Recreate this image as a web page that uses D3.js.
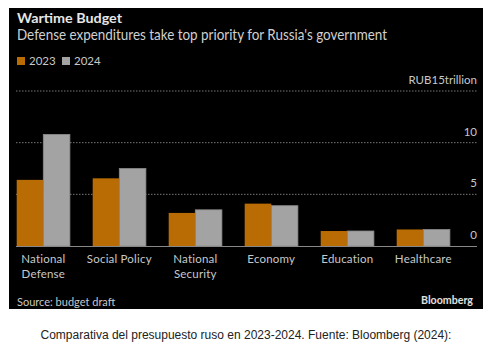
<!DOCTYPE html>
<html>
<head>
<meta charset="utf-8">
<script src="https://cdn.jsdelivr.net/npm/d3@7"></script>
<style>
  body { margin: 0; background: #fff; }
  svg text { font-family: Lato, "Noto Sans", sans-serif; }
</style>
</head>
<body>
<svg id="chart" width="494" height="361"></svg>
<script>
const categories = [
  ["National", "Defense"],
  ["Social Policy"],
  ["National", "Security"],
  ["Economy"],
  ["Education"],
  ["Healthcare"]
];
const years = ["2023", "2024"];
const values2023 = [6.4, 6.55, 3.2, 4.1, 1.45, 1.6];
const values2024 = [10.8, 7.5, 3.5, 3.9, 1.45, 1.6];
const yTicks = [0, 5, 10, 15];

const colors = { "2023": "#b96b04", "2024": "#a3a3a3" };

const svg = d3.select("#chart");

// black card
svg.append("rect")
  .attr("x", 9).attr("y", 8)
  .attr("width", 474).attr("height", 301)
  .attr("fill", "#000");

svg.append("text")
  .attr("x", 17).attr("y", 23)
  .attr("fill", "#e6e6e6")
  .attr("font-size", 14).attr("font-weight", "bold")
  .attr("textLength", 105).attr("lengthAdjust", "spacingAndGlyphs")
  .text("Wartime Budget");

svg.append("text")
  .attr("x", 17).attr("y", 40)
  .attr("fill", "#d0d0d0")
  .attr("font-size", 15)
  .attr("textLength", 370).attr("lengthAdjust", "spacingAndGlyphs")
  .text("Defense expenditures take top priority for Russia's government");

// legend
const legend = svg.append("g");
years.forEach((yr, i) => {
  const gx = 17 + i * 45;
  legend.append("rect")
    .attr("x", gx).attr("y", 57)
    .attr("width", 8).attr("height", 8)
    .attr("fill", colors[yr]);
  legend.append("text")
    .attr("x", gx + 12).attr("y", 65)
    .attr("fill", "#c8c8c8")
    .attr("font-size", 11.5)
    .text(yr);
});

const y = d3.scaleLinear().domain([0, 15]).range([246, 91]);
const x = d3.scaleBand()
  .domain(d3.range(categories.length))
  .range([16.7, 449.9])
  .paddingInner(0.3)
  .paddingOuter(0);
const xs = d3.scaleBand().domain(years).range([0, x.bandwidth()]);

// grid
const grid = svg.append("g");
yTicks.filter(t => t > 0).forEach(t => {
  grid.append("line")
    .attr("x1", 16).attr("x2", 477)
    .attr("y1", y(t)).attr("y2", y(t))
    .attr("stroke", "#777")
    .attr("stroke-width", 1)
    .attr("stroke-dasharray", "1.5,1.5");
});
yTicks.forEach(t => {
  svg.append("text")
    .attr("x", 477).attr("y", y(t) - 7)
    .attr("text-anchor", "end")
    .attr("fill", "#c8c8c8")
    .attr("font-size", 11.5)
    .text(t === 15 ? "RUB15trillion" : t);
});

// bars
const series = { "2023": values2023, "2024": values2024 };
categories.forEach((c, i) => {
  years.forEach(yr => {
    const v = series[yr][i];
    svg.append("rect")
      .attr("x", x(i) + xs(yr))
      .attr("y", y(v))
      .attr("width", xs.bandwidth())
      .attr("height", y(0) - y(v))
      .attr("fill", colors[yr])
      .attr("stroke", yr === "2024" ? "#8a8a8a" : "none")
      .attr("stroke-width", 0.8);
  });
});

// baseline
svg.append("line")
  .attr("x1", 16).attr("x2", 477)
  .attr("y1", y(0) + 0.5).attr("y2", y(0) + 0.5)
  .attr("stroke", "#888").attr("stroke-width", 1);

// category labels
categories.forEach((c, i) => {
  const t = svg.append("text")
    .attr("x", x(i) + x.bandwidth() / 2)
    .attr("y", 263)
    .attr("text-anchor", "middle")
    .attr("fill", "#c8c8c8")
    .attr("font-size", 11.5)
    .attr("letter-spacing", 0.2);
  c.forEach((line, j) => {
    t.append("tspan")
      .attr("x", x(i) + x.bandwidth() / 2)
      .attr("dy", j === 0 ? 0 : 15)
      .text(line);
  });
});

svg.append("text")
  .attr("x", 17).attr("y", 306)
  .attr("fill", "#c8c8c8")
  .attr("font-size", 11)
  .text("Source: budget draft");

svg.append("text")
  .attr("x", 473).attr("y", 304)
  .attr("text-anchor", "end")
  .attr("fill", "#e0e0e0")
  .attr("font-size", 11.5).attr("font-weight", "bold")
  .attr("textLength", 52).attr("lengthAdjust", "spacingAndGlyphs")
  .text("Bloomberg");

svg.append("text")
  .attr("x", 246).attr("y", 339)
  .attr("text-anchor", "middle")
  .attr("fill", "#222")
  .attr("font-size", 12)
  .style("font-family", "'Liberation Sans', Arial, sans-serif")
  .text("Comparativa del presupuesto ruso en 2023-2024. Fuente: Bloomberg (2024):");
</script>
</body>
</html>
